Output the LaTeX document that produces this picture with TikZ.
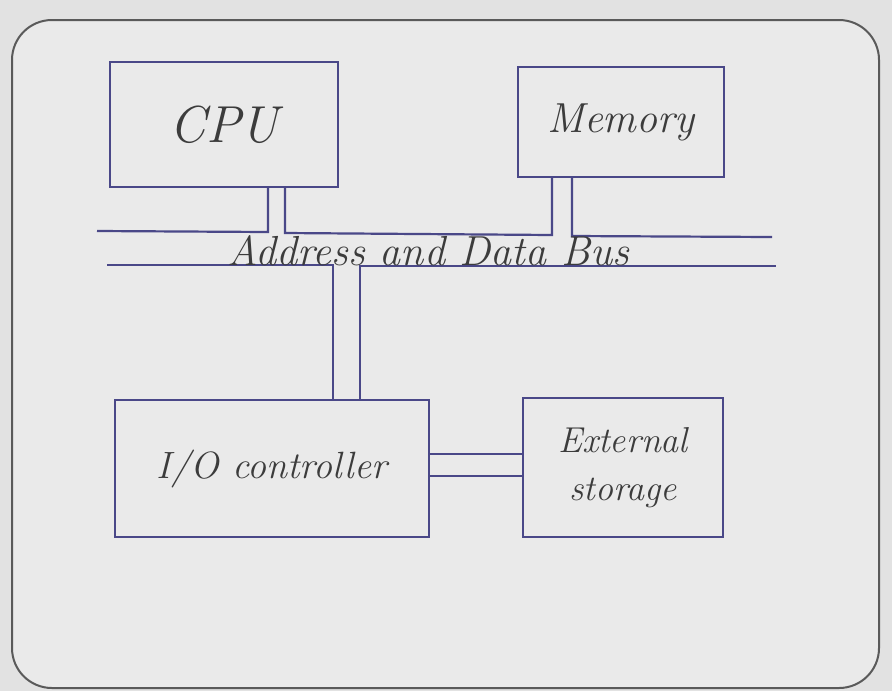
\documentclass[tikz,border=0pt]{standalone}
\usetikzlibrary{calc}
\definecolor{paper}{HTML}{E2E2E2}
\definecolor{sheet}{HTML}{EAEAEA}
\definecolor{ink}{HTML}{4A4888}
\definecolor{pencil}{HTML}{3C3C3C}
\definecolor{frameink}{HTML}{5A5A5A}
\tikzset{
  unit/.style={draw=ink, line width=1.1pt, inner sep=0pt, align=center, text=pencil, font=\itshape},
  wire/.style={draw=ink, line width=1.1pt},
  framebox/.style={draw=frameink, line width=1pt, fill=sheet, rounded corners=20pt},
  buslabel/.style={text=pencil, font=\itshape\fontsize{21}{24}\selectfont}
}
\begin{document}
\begin{tikzpicture}[x=0.5pt,y=-0.5pt]
\useasboundingbox (0,0) rectangle (892,691);
\fill[paper] (0,0) rectangle (892,691);
\path[framebox] (12,20) rectangle (879,688);

\node[unit, minimum width=114pt, minimum height=62.5pt, font=\itshape\fontsize{26}{30}\selectfont] (cpu) at (224,124.5) {CPU};
\node[unit, minimum width=103pt, minimum height=55pt, font=\itshape\fontsize{21}{25}\selectfont] (mem) at (621,122) {Memory};
\node[unit, minimum width=157pt, minimum height=68.5pt, font=\itshape\fontsize{19}{23}\selectfont] (io) at (272,468.5) {I/O controller};
\node[unit, minimum width=100pt, minimum height=69.5pt, font=\itshape\fontsize{18}{24}\selectfont] (st) at (623,467.5) {External\\storage};

\coordinate (busTL) at (97,231);
\coordinate (c1) at (268,232);
\coordinate (c2) at (285,233);
\coordinate (m1) at (552,235);
\coordinate (m2) at (572,236);
\coordinate (busTR) at (772,237);
\coordinate (busBL) at (107,265);
\coordinate (i1) at (333,265);
\coordinate (i2) at (360,266);
\coordinate (busBR) at (776,266);
\coordinate (s1) at (476,454);
\coordinate (s2) at (476,476);

\draw[wire] (cpu.south -| c1) -- (c1) -- (busTL);
\draw[wire] (cpu.south -| c2) -- (c2) -- (m1) -- (mem.south -| m1);
\draw[wire] (mem.south -| m2) -- (m2) -- (busTR);
\draw[wire] (busBL) -- (i1) -- (io.north -| i1);
\draw[wire] (io.north -| i2) -- (i2) -- (busBR);
\draw[wire] (io.east |- s1) -- (st.west |- s1);
\draw[wire] (io.east |- s2) -- (st.west |- s2);

\node[buslabel] (bus) at (428,251) {Address and Data Bus};
\end{tikzpicture}
\end{document}
